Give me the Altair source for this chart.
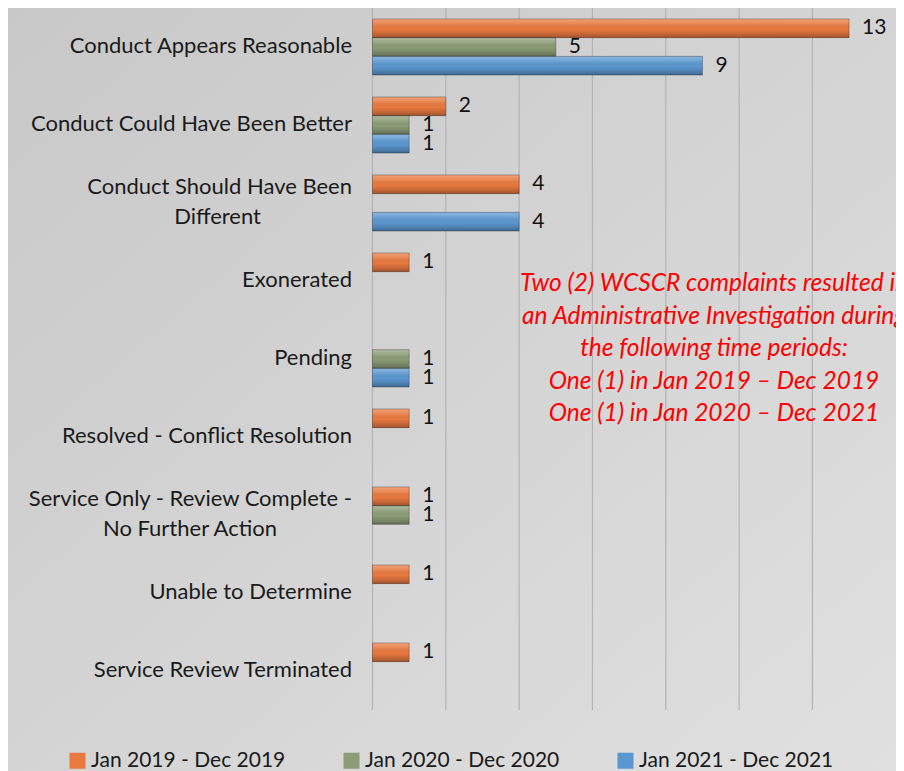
import altair as alt
import pandas as pd

# ---------------- data ----------------
categories = [
    "Conduct Appears Reasonable",
    "Conduct Could Have Been Better",
    "Conduct Should Have Been Different",
    "Exonerated",
    "Pending",
    "Resolved - Conflict Resolution",
    "Service Only - Review Complete - No Further Action",
    "Unable to Determine",
    "Service Review Terminated",
]
# how each category label wraps on the axis
label_lines = [
    ["Conduct Appears Reasonable"],
    ["Conduct Could Have Been Better"],
    ["Conduct Should Have Been", "Different"],
    ["Exonerated"],
    ["Pending"],
    ["Resolved - Conflict Resolution"],
    ["Service Only - Review Complete -", "No Further Action"],
    ["Unable to Determine"],
    ["Service Review Terminated"],
]
series = ["Jan 2019 - Dec 2019", "Jan 2020 - Dec 2020", "Jan 2021 - Dec 2021"]
values_2019 = [13, 2, 4, 1, 0, 1, 1, 1, 1]
values_2020 = [5, 1, 0, 0, 1, 0, 1, 0, 0]
values_2021 = [9, 1, 4, 0, 1, 0, 0, 0, 0]
series_colors = ["#e8793f", "#8b9c76", "#5b97cf"]
x_ticks = [0, 2, 4, 6, 8, 10, 12]
note_lines = [
    "Two (2) WCSCR complaints resulted in",
    "an Administrative Investigation during",
    "the following time periods:",
    "One (1) in Jan 2019 \u2013 Dec 2019",
    "One (1) in Jan 2020 \u2013 Dec 2021",
]

# ---------------- build table ----------------
# blank (non-trailing-whitespace) filler so the wrapped second line sits centred
BLANK = "\u2800"
EN = "\u2002"
second_line_fill = {"Different": EN + BLANK * 5, "No Further Action": EN + BLANK * 4}


def display_label(lines):
    if len(lines) == 1:
        return lines[0]
    l1, l2 = lines
    return l1 + "|" + l2 + second_line_fill.get(l2, "")


disp = [display_label(l) for l in label_lines]
all_vals = [values_2019, values_2020, values_2021]
rows = []
for i, cat in enumerate(categories):
    for j, s in enumerate(series):
        rows.append({"category": cat, "label": disp[i], "series": s, "value": all_vals[j][i]})
df = pd.DataFrame(rows)

FONT = "Lato"
PAD_L = 364.5
W, H = 523.5, 702
PAD_B = 61

y_enc = alt.Y(
    "label:N",
    sort=disp,
    scale=alt.Scale(domain=disp, paddingInner=0.28, paddingOuter=0.14),
    axis=alt.Axis(
        title=None,
        labelExpr="split(datum.label, '|')",
        labelFont=FONT,
        labelFontSize=22,
        labelColor="#1a1a1a",
        labelPadding=21,
        labelOffset={"condition": {"test": "indexof(datum.value, '|') >= 0", "value": -16}, "value": -1},
        ticks=False,
        tickSize=0,
        domain=False,
        grid=False,
        labelLineHeight=30,
        labelLimit=500,
        zindex=1,
    ),
)
yoff_enc = alt.YOffset(
    "series:N", sort=series, scale=alt.Scale(domain=series, paddingInner=0, paddingOuter=0)
)
x_enc = alt.X(
    "value:Q",
    scale=alt.Scale(domain=[0, 14.28], nice=False, zero=True),
    axis=None,
)

base = alt.Chart(df).transform_filter("datum.value > 0")

bars = base.mark_bar().encode(
    x=x_enc,
    y=y_enc,
    yOffset=yoff_enc,
    color=alt.Color(
        "series:N",
        sort=series,
        scale=alt.Scale(domain=series, range=series_colors),
        legend=alt.Legend(
            title=None,
            orient="none",
            legendX=-305.5,
            legendY=742,
            direction="horizontal",
            symbolType="square",
            symbolSize=256,
            labelFont=FONT,
            labelFontSize=21,
            labelColor="#1a1a1a",
            labelLimit=400,
            columnPadding=55,
            labelOffset=3,
            padding=0,
        ),
    ),
)

bevel = alt.LinearGradient(
    gradient="linear",
    x1=0, y1=0, x2=0, y2=1,
    stops=[
        alt.GradientStop(offset=0, color="rgba(255,255,255,0.30)"),
        alt.GradientStop(offset=0.25, color="rgba(255,255,255,0.12)"),
        alt.GradientStop(offset=0.55, color="rgba(0,0,0,0.0)"),
        alt.GradientStop(offset=0.85, color="rgba(0,0,0,0.18)"),
        alt.GradientStop(offset=1, color="rgba(0,0,0,0.32)"),
    ],
)
shine = base.mark_bar(fill=bevel, stroke="rgba(0,0,0,0.35)", strokeWidth=0.8).encode(
    x=alt.X("value:Q", axis=None),
    y=alt.Y("label:N", sort=disp),
    yOffset=alt.YOffset("series:N", sort=series),
)

labels = base.mark_text(
    align="left", baseline="middle", dx=13, font=FONT, fontSize=21, color="#111111"
).encode(
    x=alt.X("value:Q", axis=None),
    y=alt.Y("label:N", sort=disp),
    yOffset=alt.YOffset("series:N", sort=series),
    text="value:Q",
)

grid = alt.Chart(pd.DataFrame({"value": x_ticks})).mark_rule(
    color="#b3b3b3", strokeWidth=1.2
).encode(x=alt.X("value:Q", axis=None))

bg_grad = alt.LinearGradient(
    gradient="linear",
    x1=0, y1=0, x2=1, y2=1,
    stops=[
        alt.GradientStop(offset=0, color="#c8c8c8"),
        alt.GradientStop(offset=1, color="#e0e0e0"),
    ],
)
background = alt.Chart(alt.Data(values=[{"a": 1}])).mark_rect(fill=bg_grad).encode(
    x=alt.value(-PAD_L), x2=alt.value(W), y=alt.value(0), y2=alt.value(H + PAD_B)
)

note = alt.Chart(alt.Data(values=[{"a": 1}])).mark_text(
    text=note_lines,
    align="center",
    baseline="middle",
    font=FONT,
    fontSize=24.5,
    fontStyle="italic",
    color="#ff0000",
    lineHeight=32.5,
).encode(x=alt.value(341.5), y=alt.value(276))

chart = (
    alt.layer(background, grid, bars, shine, labels, note)
    .properties(
        width=W,
        height=H,
        autosize=alt.AutoSizeParams(type="none"),
        padding={"left": PAD_L, "top": 0, "right": 0, "bottom": PAD_B},
        background="#d4d4d4",
    )
    .configure_view(stroke=None)
)

chart.save("out.html", embed_options={"renderer": "svg", "actions": False})
